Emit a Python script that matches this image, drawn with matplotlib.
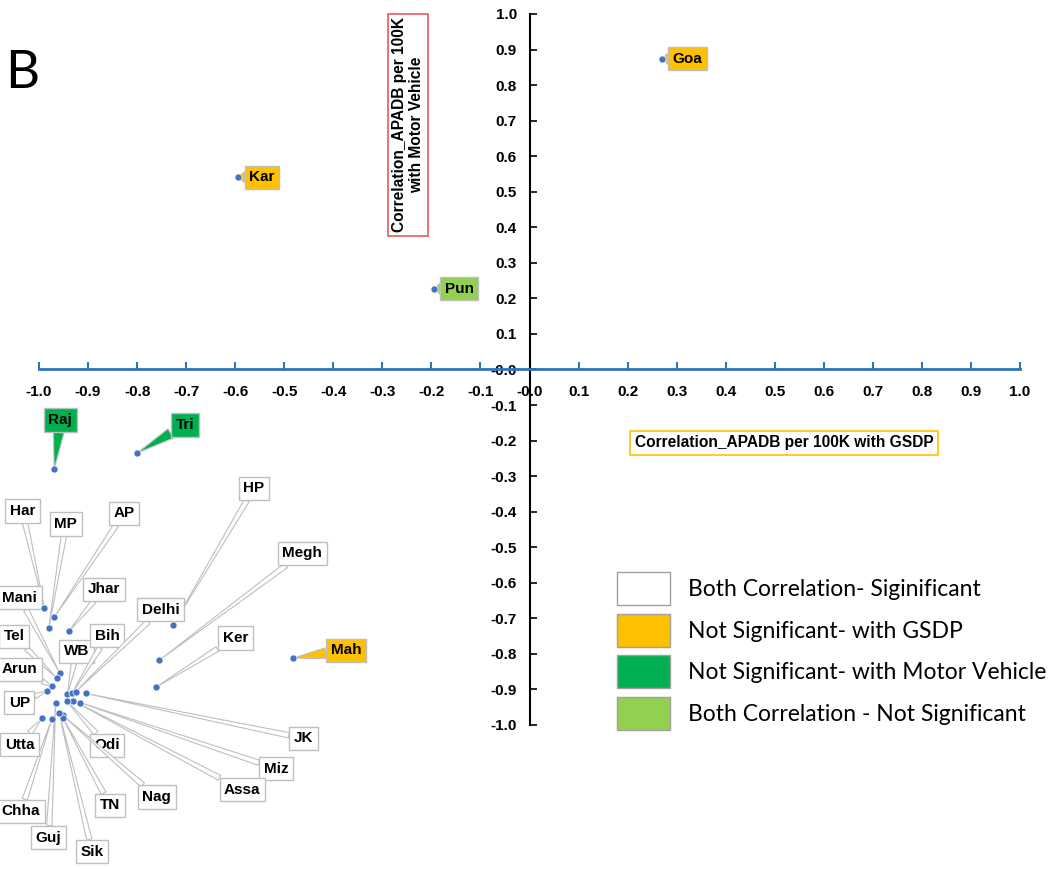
import numpy as np
import matplotlib
matplotlib.use("Agg")
import matplotlib.pyplot as plt
from matplotlib.patches import Patch

# ---------------------------------------------------------
# Data: correlation of APADB per 100K with GSDP (x)
# and with motor vehicles (y), one point per state
# ---------------------------------------------------------

states = ["Goa", "Kar", "Pun", "Raj", "Tri", "Mah", "HP", "Megh", "Ker",
          "Har", "AP", "MP", "Jhar", "Mani", "Tel", "Arun", "UP", "WB",
          "Bih", "Delhi", "JK", "Miz", "Assa", "Odi", "Nag", "TN", "Sik",
          "Guj", "Chha", "Utta"]

corr_gsdp = [0.271, -0.594, -0.194, -0.969, -0.800, -0.482, -0.727, -0.755,
             -0.761, -0.989, -0.969, -0.980, -0.939, -0.958, -0.963, -0.974,
             -0.983, -0.942, -0.932, -0.925, -0.905, -0.916, -0.930, -0.943,
             -0.952, -0.951, -0.959, -0.966, -0.974, -0.993]

corr_vehicle = [0.874, 0.541, 0.227, -0.280, -0.235, -0.812, -0.720, -0.818,
                -0.893, -0.671, -0.697, -0.727, -0.736, -0.853, -0.869, -0.891,
                -0.904, -0.914, -0.909, -0.906, -0.911, -0.937, -0.932, -0.933,
                -0.972, -0.981, -0.965, -0.937, -0.984, -0.980]

# significance group of each state
# 0 both significant, 1 not sig. with GSDP, 2 not sig. with vehicle, 3 neither
group = [1, 1, 3, 2, 2, 1] + [0] * 24

legend_labels = ["Both Correlation- Siginificant",
                 "Not Significant- with GSDP",
                 "Not Significant- with Motor Vehicle",
                 "Both Correlation - Not Significant"]

ticks = np.round(np.arange(-1.0, 1.01, 0.1), 1)

# ---------------------------------------------------------
# Styling / layout
# ---------------------------------------------------------

group_colors = ["white", "#FFC000", "#00B050", "#92D050"]

# label offsets from the point, in pixels (dx right, dy up)
label_offset = {
    "Goa": (25, 0), "Kar": (24, 0), "Pun": (25, 0), "Raj": (6, 49),
    "Tri": (48, 28), "Mah": (53, 8), "HP": (81, 137), "Megh": (143, 107),
    "Ker": (79, 49), "Har": (-22, 97), "AP": (70, 104), "MP": (17, 104),
    "Jhar": (35, 42), "Mani": (-40, 75), "Tel": (-43, 42), "Arun": (-32, 17),
    "UP": (-28, -12), "WB": (9, 43), "Bih": (35, 57), "Delhi": (85, 82),
    "JK": (218, -45), "Miz": (196, -66), "Assa": (169, -89), "Odi": (40, -44),
    "Nag": (94, -82), "TN": (47, -87), "Sik": (33, -139), "Guj": (-7, -135),
    "Chha": (-31, -92), "Utta": (-23, -27),
}

plt.rcParams["font.family"] = ["Liberation Sans", "DejaVu Sans"]

fig = plt.figure(figsize=(10.53, 8.69), dpi=100)
ax = fig.add_axes([39 / 1053, 1 - 725 / 869, 981 / 1053, 711 / 869])

ax.set_xlim(-1, 1)
ax.set_ylim(-1, 1)

# axes through the origin
ax.spines["left"].set_position(("data", 0))
ax.spines["bottom"].set_position(("data", 0))
ax.spines["right"].set_visible(False)
ax.spines["top"].set_visible(False)
ax.spines["bottom"].set_color("#2E75B6")
ax.spines["bottom"].set_linewidth(2)
ax.spines["left"].set_color("black")
ax.spines["left"].set_linewidth(1.5)

ax.set_xticks(ticks)
ax.set_yticks(ticks)
ax.set_xticklabels([f"{t:.1f}" for t in ticks])
ax.set_yticklabels([f"{t:.1f}" for t in ticks])
ax.tick_params(axis="x", direction="in", length=5, width=1.5,
               color="#2E75B6", pad=11, labelsize=11)
ax.tick_params(axis="y", direction="in", length=5, width=1.2,
               color="black", pad=9, labelsize=11)
for lab in ax.get_xticklabels() + ax.get_yticklabels():
    lab.set_fontweight("bold")

ax.scatter(corr_gsdp, corr_vehicle, s=26, color="#4472C4",
           edgecolor="white", linewidth=0.5, zorder=6, clip_on=False)

for name, x, y, g in zip(states, corr_gsdp, corr_vehicle, group):
    fc = group_colors[g]
    dx, dy = label_offset[name]
    tail = 0.35 if g == 0 else 0.7
    ax.annotate(
        name, xy=(x, y), xytext=(dx, dy), textcoords="offset pixels",
        ha="center", va="center", fontsize=11, fontweight="bold",
        bbox=dict(boxstyle="square,pad=0.3", fc=fc, ec="#BFBFBF", lw=1),
        arrowprops=dict(arrowstyle=f"wedge,tail_width={tail}",
                        fc=fc, ec="#BFBFBF", lw=0.8, shrinkA=0, shrinkB=0),
        annotation_clip=False, zorder=5,
    )

# axis titles in boxes
fig.text(408 / 1053, 1 - 125 / 869,
         "Correlation_APADB per 100K\nwith Motor Vehicle",
         rotation=90, ha="center", va="center", fontsize=11.2,
         fontweight="bold", linespacing=1.2,
         bbox=dict(boxstyle="square,pad=0.25", fc="white", ec="#E8595B", lw=1.2))

fig.text(784 / 1053, 1 - 443 / 869,
         "Correlation_APADB per 100K with GSDP",
         ha="center", va="center", fontsize=11.2, fontweight="bold",
         bbox=dict(boxstyle="square,pad=0.3", fc="white", ec="#FFC000", lw=1.2))

# panel letter
fig.text(5 / 1053, 1 - 88 / 869, "B", fontsize=38, family="Lato",
         ha="left", va="baseline")

# legend
handles = [Patch(facecolor=c, edgecolor="#A0A0A0", linewidth=1)
           for c in group_colors]
fig.legend(handles, legend_labels, loc="upper left",
           bbox_to_anchor=(617 / 1053, 1 - 572 / 869),
           frameon=False, borderpad=0, borderaxespad=0,
           prop={"family": "Lato", "size": 16.5},
           handlelength=2.3, handleheight=1.85, labelspacing=0.37,
           handletextpad=0.8)

fig.savefig("out.png", dpi=100)
